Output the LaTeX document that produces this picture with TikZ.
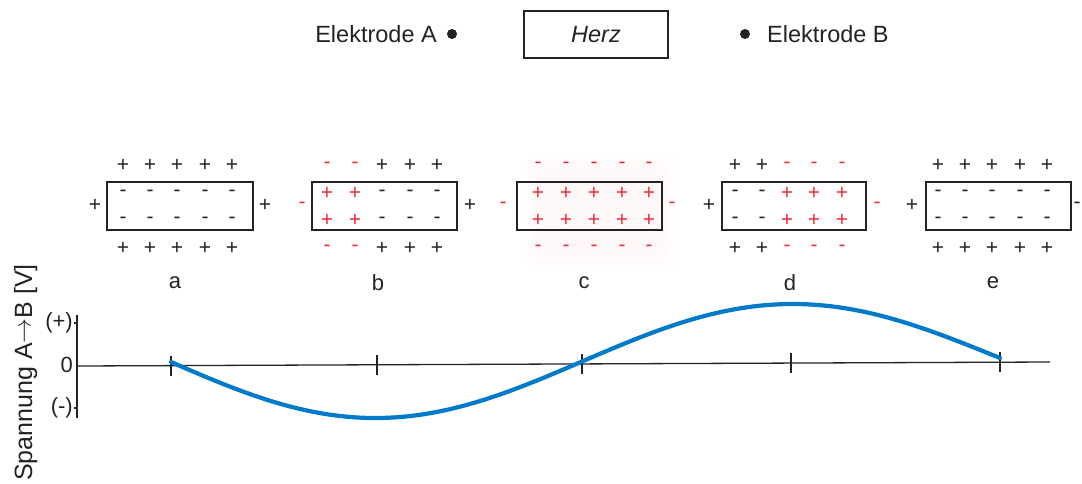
\documentclass[tikz,border=0pt]{standalone}
\usepackage{fontspec}
\setmainfont{Liberation Sans}
\definecolor{ink}{RGB}{35,35,35}
\definecolor{signred}{RGB}{232,45,58}
\definecolor{curveblue}{RGB}{0,122,201}
\definecolor{K}{RGB}{35,35,35}
\definecolor{R}{RGB}{232,45,58}
\tikzset{
  cellbox/.style={draw=ink, line width=2.6pt, inner sep=0pt},
  sgn/.style={inner sep=0pt, font=\fontsize{21}{24}\selectfont},
  hdr/.style={inner sep=0pt, font=\fontsize{23.5}{28}\selectfont, text=ink},
  lbl/.style={inner sep=0pt, font=\fontsize{22}{26}\selectfont, text=ink},
  electrode/.style={circle, fill=ink, minimum size=10pt, inner sep=0pt},
  axisline/.style={draw=ink, line width=1.3pt},
  tickmark/.style={draw=ink, line width=1.8pt},
}
% signs of one cell: name, list of x/colour/outer sign/inner sign
\newcommand{\cellsigns}[2]{%
  \foreach \cx/\cc/\so/\si [count=\k] in {#2} {
    \node[sgn, text=\cc] (#1-t\k) at (\cx,165) {\so};
    \node[sgn, text=\cc] (#1-u\k) at (\cx,193) {\si};
    \node[sgn, text=\cc] (#1-l\k) at (\cx,220) {\si};
    \node[sgn, text=\cc] (#1-b\k) at (\cx,248) {\so};
  }%
}
\begin{document}
\begin{tikzpicture}[x=1pt, y=-1pt]
\useasboundingbox (0,0) rectangle (1082,483);

% header: electrodes and heart
\node[hdr, anchor=east] (elA) at (437,34) {Elektrode A};
\node[electrode] (dotA) at (452,34) {};
\node[draw=ink, line width=1.8pt, minimum width=144pt, minimum height=47pt, inner sep=0pt,
      font=\fontsize{23.5}{28}\selectfont\itshape, text=ink] (herz) at (596,34.5) {Herz};
\node[electrode] (dotB) at (745,34) {};
\node[hdr, anchor=west] (elB) at (767,34) {Elektrode B};

% faint glow around cell c
\foreach \d in {0,5,10,15}
  \fill[signred, opacity=0.008, rounded corners=18pt] (522+\d,152+\d) rectangle (680-\d,272-\d);

% cells
\node[cellbox, minimum width=146pt, minimum height=48pt] (ca) at (180,206) {};
\node[cellbox, minimum width=145pt, minimum height=48pt] (cb) at (384.5,206) {};
\node[cellbox, minimum width=145pt, minimum height=48pt] (cc) at (589.5,206) {};
\node[cellbox, minimum width=144pt, minimum height=48pt] (cd) at (794,206) {};
\node[cellbox, minimum width=145pt, minimum height=48pt] (ce) at (998.5,206) {};

\cellsigns{a}{123/K/+/-, 150/K/+/-, 177/K/+/-, 205/K/+/-, 232/K/+/-}
\cellsigns{b}{327/R/-/+, 355/R/-/+, 382/K/+/-, 410/K/+/-, 437/K/+/-}
\cellsigns{c}{538/R/-/+, 566/R/-/+, 594/R/-/+, 622/R/-/+, 649/R/-/+}
\cellsigns{d}{735/K/+/-, 762/K/+/-, 787/R/-/+, 814/R/-/+, 842/R/-/+}
\cellsigns{e}{938/K/+/-, 965/K/+/-, 992/K/+/-, 1020/K/+/-, 1047/K/+/-}

% side charges
\node[sgn, text=K] (a-sl) at (95,205) {+};
\node[sgn, text=K] (a-sr) at (265,205) {+};
\node[sgn, text=R] (b-sl) at (302,205) {-};
\node[sgn, text=K] (b-sr) at (470,205) {+};
\node[sgn, text=R] (c-sl) at (503,205) {-};
\node[sgn, text=R] (c-sr) at (672,205) {-};
\node[sgn, text=K] (d-sl) at (709,205) {+};
\node[sgn, text=R] (d-sr) at (877,205) {-};
\node[sgn, text=K] (e-sl) at (912,205) {+};
\node[sgn, text=K] (e-sr) at (1077,205) {-};

% stage letters
\node[lbl] (la) at (175,283) {a};
\node[lbl] (lb) at (378,283) {b};
\node[lbl] (lc) at (584,283) {c};
\node[lbl] (ld) at (790,283) {d};
\node[lbl] (le) at (993,283) {e};

% voltage axis
\coordinate (yTop) at (77,315);
\coordinate (yBot) at (77,418);
\coordinate (xL) at (77,366);
\coordinate (xR) at (1050,362);
\draw[axisline] (yTop) -- (yBot);
\draw[axisline] (xL) -- (xR);
\draw[axisline] (74,323) -- (77,323);
\draw[axisline] (74,408) -- (77,408);
\node[lbl, anchor=east] (yplus) at (73,323) {(+)};
\node[lbl, anchor=east] (yzero) at (73,365) {0};
\node[lbl, anchor=east] (yminus) at (73,408) {(-)};
\node[inner sep=0pt, font=\fontsize{25}{30}\selectfont, text=ink, rotate=90, anchor=base west]
  (ylab) at (32,481) {Spannung A\raisebox{1.5pt}{$\rightarrow$}B [V]};

% ticks under the stages
\foreach \tx in {171,377,582,791,1000}
  \draw[tickmark] (\tx,{366-4/973*(\tx-77)-10}) -- (\tx,{366-4/973*(\tx-77)+10});

% voltage curve
\draw[curveblue, line width=4.2pt, line cap=round]
  plot[domain=171:1000, samples=120, smooth]
  (\x, {362-4/829*(\x-171)+(58-4/829*(\x-171))*sin(360/829*(\x-171))});
\end{tikzpicture}
\end{document}
